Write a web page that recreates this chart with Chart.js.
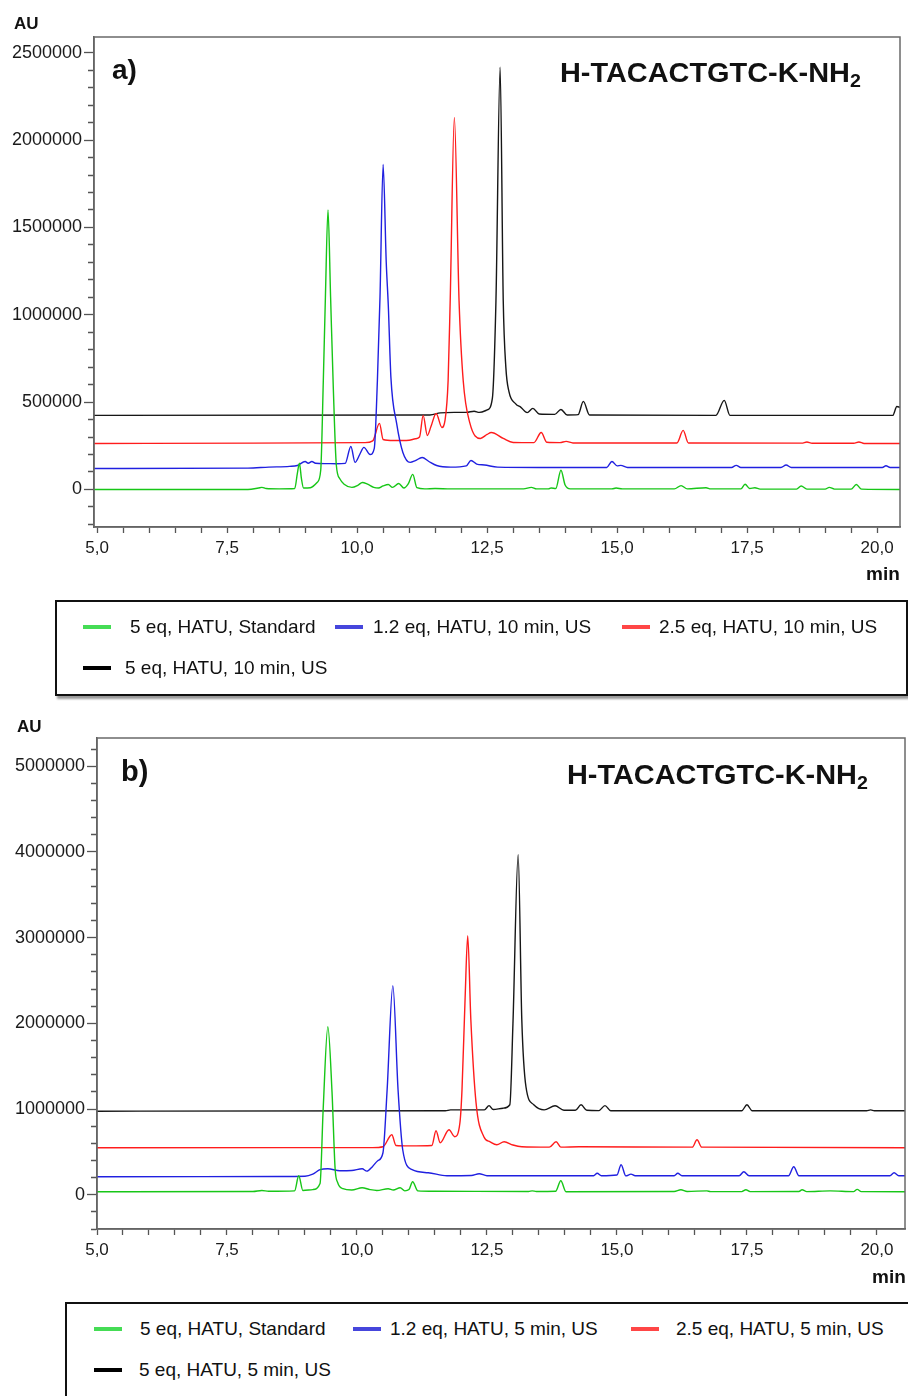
<!DOCTYPE html>
<html>
<head>
<meta charset="utf-8">
<script src="https://cdn.jsdelivr.net/npm/chart.js@4.4.1/dist/chart.umd.min.js"></script>
<style>
  body { margin: 0; width: 908px; height: 1396px; position: relative; overflow: hidden; background: #fff;
         font-family: "Liberation Sans", Arial, sans-serif; color: #111; }
  canvas { position: absolute; left: 0; }
  .lbl { position: absolute; font-weight: bold; line-height: 1; white-space: nowrap; }
  .pep { transform-origin: left top; transform: scaleX(1.07); font-size: 27px; }
  .pep sub { font-size: 0.68em; vertical-align: -0.28em; }
  .legend { position: absolute; border: 2px solid #111; box-shadow: 2px 3px 2px #9a9a9a; background: #fff; }
  .item { position: absolute; height: 20px; line-height: 20px; font-size: 19px; white-space: nowrap; }
  .swatch { position: absolute; height: 4px; }
</style>
</head>
<body>
<canvas id="chartA" width="908" height="590" style="top:0"></canvas>
<canvas id="chartB" width="908" height="590" style="top:700px"></canvas>

<div class="lbl" style="left:14px; top:15px; font-size:17px">AU</div>
<div class="lbl" style="left:112px; top:56px; font-size:28px">a)</div>
<div class="lbl pep" style="left:560px; top:60px">H-TACACTGTC-K-NH<sub>2</sub></div>
<div class="lbl" style="left:866px; top:564px; font-size:19px">min</div>

<div class="lbl" style="left:17px; top:718px; font-size:17px">AU</div>
<div class="lbl" style="left:121px; top:757px; font-size:29px">b)</div>
<div class="lbl pep" style="left:567px; top:762px">H-TACACTGTC-K-NH<sub>2</sub></div>
<div class="lbl" style="left:872px; top:1267px; font-size:19px">min</div>

<div class="legend" id="legendA" style="left:55px; top:600px; width:849px; height:92px"></div>
<div class="legend" id="legendB" style="left:65px; top:1302px; width:860px; height:120px"></div>

<script>
// Series names
const labelsA = ['5 eq, HATU, Standard', '1.2 eq, HATU, 10 min, US', '2.5 eq, HATU, 10 min, US', '5 eq, HATU, 10 min, US'];
const labelsB = ['5 eq, HATU, Standard', '1.2 eq, HATU, 5 min, US', '2.5 eq, HATU, 5 min, US', '5 eq, HATU, 5 min, US'];
const lineColors = ['#17c617', '#2020e0', '#ff1c1c', '#161616'];
const swatchColors = ['#45dc55', '#4646dc', '#ff4646', '#000000'];

// Axis ticks (min)
const xLabelTicks = [5, 7.5, 10, 12.5, 15, 17.5, 20];
const xMinorStep = 0.5;
const yLabelTicksA = [0, 500000, 1000000, 1500000, 2000000, 2500000];
const yMinorStepA = 100000;
const yLabelTicksB = [0, 1000000, 2000000, 3000000, 4000000, 5000000];
const yMinorStepB = 200000;

// Panel a) traces, [time (min), AU]
const greenA = [[4.94, 0], [7.9, 0], [8.1, 8000], [8.17, 12000], [8.25, 5000], [8.5, 3000], [8.8, 5000], [8.85, 90000],
  [8.89, 150000], [8.93, 60000], [8.97, 8000], [9.1, 10000], [9.23, 40000], [9.3, 110000], [9.35, 624000], [9.39, 1100000],
  [9.44, 1600000], [9.49, 1100000], [9.54, 600000], [9.6, 140000], [9.67, 60000], [9.75, 30000], [9.9, 12000], [10.02, 25000],
  [10.1, 40000], [10.2, 30000], [10.32, 12000], [10.41, 8000], [10.5, 20000], [10.6, 28000], [10.68, 12000], [10.8, 34000],
  [10.9, 8000], [10.98, 30000], [11.07, 86000], [11.15, 10000], [11.3, 3000], [11.5, 5000], [11.8, 3000], [13.2, 3000],
  [13.35, 12000], [13.45, 3000], [13.68, 3000], [13.73, 8000], [13.82, 5000], [13.92, 110000], [14.0, 25000], [14.1, 3000],
  [14.9, 3000], [14.98, 8000], [15.1, 3000], [16.1, 3000], [16.23, 22000], [16.35, 3000], [16.71, 10000], [16.8, 3000],
  [17.38, 3000], [17.46, 30000], [17.55, 5000], [17.65, 10000], [17.75, 2000], [18.45, 2000], [18.54, 20000], [18.65, 2000],
  [19.0, 2000], [19.08, 12000], [19.18, 2000], [19.5, 2000], [19.6, 28000], [19.7, 2000], [20.44, 0]];
const blueA = [[4.94, 120000], [7.9, 122000], [8.3, 128000], [8.7, 132000], [8.85, 137000], [9.0, 160000], [9.06, 150000],
  [9.13, 160000], [9.2, 150000], [9.4, 148000], [9.6, 147000], [9.77, 149000], [9.88, 246000], [9.96, 155000], [10.05, 200000],
  [10.13, 241000], [10.25, 200000], [10.33, 235000], [10.39, 624000], [10.44, 1100000], [10.5, 1860000], [10.56, 1300000],
  [10.6, 1050000], [10.65, 640000], [10.76, 378000], [10.88, 212000], [11.02, 155000], [11.12, 165000], [11.25, 183000],
  [11.38, 160000], [11.53, 137000], [11.8, 128000], [12.1, 135000], [12.19, 166000], [12.3, 145000], [12.45, 140000],
  [12.7, 128000], [13.5, 126000], [14.8, 126000], [14.9, 160000], [15.0, 135000], [15.07, 138000], [15.2, 126000],
  [17.2, 126000], [17.29, 138000], [17.38, 126000], [18.15, 126000], [18.25, 140000], [18.35, 126000], [20.1, 126000],
  [20.17, 136000], [20.25, 126000], [20.44, 126000]];
const redA = [[4.94, 263000], [8.0, 265000], [10.15, 268000], [10.3, 278000], [10.43, 378000], [10.5, 286000], [10.7, 280000],
  [11.0, 282000], [11.12, 290000], [11.2, 300000], [11.27, 424000], [11.35, 309000], [11.42, 360000], [11.52, 435000],
  [11.63, 355000], [11.69, 395000], [11.75, 624000], [11.79, 1082000], [11.87, 2130000], [11.96, 1082000], [12.04, 624000],
  [12.17, 378000], [12.37, 292000], [12.5, 315000], [12.58, 326000], [12.81, 292000], [13.0, 269000], [13.4, 268000],
  [13.54, 326000], [13.65, 270000], [13.9, 268000], [14.02, 275000], [14.15, 266000], [16.15, 266000], [16.27, 338000],
  [16.37, 266000], [18.55, 265000], [18.65, 272000], [18.75, 264000], [19.55, 264000], [19.65, 272000], [19.75, 263000],
  [20.44, 263000]];
const blackA = [[4.94, 424000], [11.4, 426000], [11.6, 438000], [11.87, 441000], [12.1, 441000], [12.25, 448000],
  [12.35, 441000], [12.5, 455000], [12.6, 520000], [12.67, 1082000], [12.75, 2417000], [12.81, 1082000], [12.86, 700000],
  [12.92, 560000], [13.05, 490000], [13.15, 470000], [13.27, 440000], [13.38, 464000], [13.5, 432000], [13.8, 430000],
  [13.92, 458000], [14.04, 426000], [14.25, 428000], [14.35, 504000], [14.47, 426000], [16.9, 424000], [17.06, 510000],
  [17.17, 424000], [20.3, 424000], [20.38, 475000], [20.44, 470000]];

// Panel b) traces, [time (min), AU]
const greenB = [[5.0, 35000], [8.0, 38000], [8.17, 50000], [8.3, 40000], [8.8, 45000], [8.88, 222000], [8.96, 50000],
  [9.15, 60000], [9.29, 130000], [9.35, 1000000], [9.44, 1960000], [9.52, 1200000], [9.58, 300000], [9.63, 140000],
  [9.73, 70000], [9.9, 55000], [10.1, 82000], [10.25, 60000], [10.38, 50000], [10.6, 70000], [10.7, 55000], [10.83, 82000],
  [10.92, 45000], [11.0, 60000], [11.07, 152000], [11.17, 45000], [11.5, 40000], [13.3, 38000], [13.37, 45000],
  [13.45, 38000], [13.82, 40000], [13.92, 163000], [14.02, 35000], [16.1, 38000], [16.23, 58000], [16.35, 38000],
  [16.73, 45000], [16.8, 36000], [17.4, 36000], [17.48, 58000], [17.56, 36000], [18.5, 38000], [18.56, 58000],
  [18.65, 36000], [19.1, 45000], [19.55, 36000], [19.62, 62000], [19.7, 36000], [20.54, 35000]];
const blueB = [[5.0, 210000], [8.5, 212000], [9.0, 215000], [9.15, 240000], [9.29, 292000], [9.44, 303000], [9.67, 280000],
  [9.9, 282000], [10.1, 303000], [10.19, 275000], [10.3, 330000], [10.4, 397000], [10.5, 490000], [10.58, 1225000],
  [10.69, 2440000], [10.79, 1225000], [10.88, 525000], [11.06, 292000], [11.37, 257000], [11.73, 222000], [12.2, 225000],
  [12.35, 245000], [12.5, 222000], [14.55, 222000], [14.62, 250000], [14.7, 222000], [15.0, 230000], [15.08, 350000],
  [15.17, 220000], [15.27, 240000], [15.35, 222000], [16.1, 222000], [16.17, 250000], [16.25, 222000], [17.35, 222000],
  [17.44, 268000], [17.54, 222000], [18.3, 222000], [18.4, 327000], [18.5, 222000], [20.25, 222000], [20.33, 257000],
  [20.42, 222000], [20.54, 222000]];
const redB = [[5.0, 548000], [10.3, 550000], [10.5, 560000], [10.67, 700000], [10.75, 575000], [11.0, 570000],
  [11.44, 575000], [11.52, 747000], [11.6, 607000], [11.77, 758000], [11.88, 677000], [11.98, 840000], [12.02, 1225000],
  [12.08, 2300000], [12.13, 3022000], [12.19, 2042000], [12.29, 1073000], [12.44, 677000], [12.56, 618000], [12.69, 583000],
  [12.83, 618000], [13.0, 580000], [13.17, 560000], [13.7, 555000], [13.83, 618000], [13.92, 555000], [14.27, 560000],
  [16.45, 555000], [16.54, 642000], [16.63, 555000], [20.54, 548000]];
const blackB = [[5.0, 975000], [11.7, 980000], [11.8, 990000], [12.45, 990000], [12.54, 1040000], [12.62, 995000],
  [12.81, 1010000], [12.94, 1050000], [13.0, 2000000], [13.1, 3967000], [13.17, 2042000], [13.25, 1260000], [13.4, 1050000],
  [13.6, 990000], [13.81, 1038000], [13.98, 985000], [14.2, 985000], [14.31, 1050000], [14.42, 985000], [14.65, 982000],
  [14.77, 1040000], [14.88, 980000], [17.4, 980000], [17.5, 1050000], [17.6, 980000], [19.8, 980000], [19.88, 990000],
  [19.95, 980000], [20.54, 980000]];

const FONT = '"Liberation Sans", Arial, sans-serif';

function tickList(lo, hi, step) {
    const out = [];
    const n = Math.round((hi - lo) / step);
    for (let i = 0; i <= n; i++) out.push({ value: Math.round((lo + i * step) / step) * step });
    return out;
}

function isLabelled(value, list) {
    return list.some(v => Math.abs(v - value) < 1e-6);
}

// Frame around the plot area
const frame = {
    id: 'frame',
    afterDraw(chart) {
        const { ctx, chartArea: a } = chart;
        ctx.save();
        ctx.strokeStyle = '#6a6a6a';
        ctx.lineWidth = 1.5;
        ctx.strokeRect(a.left, a.top, a.right - a.left, a.bottom - a.top);
        ctx.restore();
    }
};

function makePanel(id, traces, labels, p) {
    const ctx = document.getElementById(id).getContext('2d');
    return new Chart(ctx, {
        type: 'line',
        data: {
            datasets: traces.map((t, i) => ({
                label: labels[i],
                data: t.map(pt => ({ x: pt[0], y: pt[1] })),
                borderColor: lineColors[i],
                borderWidth: 1.4,
                pointRadius: 0,
                cubicInterpolationMode: 'monotone',
                fill: false
            }))
        },
        options: {
            responsive: false,
            animation: false,
            layout: { padding: { top: p.padTop, right: p.padRight, left: 0, bottom: 0 } },
            plugins: { legend: { display: false }, tooltip: { enabled: false } },
            scales: {
                x: {
                    type: 'linear',
                    min: p.xMin,
                    max: p.xMax,
                    border: { display: true, color: '#555', width: 1.5 },
                    grid: { drawOnChartArea: false, drawTicks: true, tickLength: 6, tickColor: '#555', tickWidth: 1.3 },
                    ticks: {
                        autoSkip: false, maxRotation: 0, padding: 5, color: '#1a1a1a',
                        font: { family: FONT, size: 17 },
                        callback: v => isLabelled(v, xLabelTicks) ? v.toFixed(1).replace('.', ',') : ''
                    },
                    afterBuildTicks: axis => { axis.ticks = tickList(5, 20, xMinorStep); },
                    afterFit: axis => { axis.height = p.xAxisHeight; }
                },
                y: {
                    type: 'linear',
                    min: p.yMin,
                    max: p.yMax,
                    border: { display: true, color: '#555', width: 1.5 },
                    grid: {
                        drawOnChartArea: false, drawTicks: true, tickLength: 10, tickColor: '#555', tickWidth: 1.3,
                        tickBorderDash: c => (c.tick && isLabelled(c.tick.value, p.yLabels)) ? [] : [0, 4, 6, 100]
                    },
                    ticks: {
                        autoSkip: false, padding: 2, color: '#1a1a1a',
                        font: { family: FONT, size: 18 },
                        callback: v => isLabelled(v, p.yLabels) ? String(v) : ''
                    },
                    afterBuildTicks: axis => { axis.ticks = tickList(p.yTickLo, p.yTickHi, p.yStep); },
                    afterFit: axis => { axis.width = p.yAxisWidth; }
                }
            }
        },
        plugins: [frame]
    });
}

makePanel('chartA', [greenA, blueA, redA, blackA], labelsA, {
    padTop: 37, padRight: 8, xAxisHeight: 63, yAxisWidth: 94,
    xMin: 4.94, xMax: 20.44, yMin: -215000, yMax: 2590000,
    yTickLo: -200000, yTickHi: 2500000, yStep: yMinorStepA, yLabels: yLabelTicksA
});

makePanel('chartB', [greenB, blueB, redB, blackB], labelsB, {
    padTop: 38, padRight: 3, xAxisHeight: 61, yAxisWidth: 97,
    xMin: 5.0, xMax: 20.54, yMin: -400000, yMax: 5330000,
    yTickLo: -400000, yTickHi: 5200000, yStep: yMinorStepB, yLabels: yLabelTicksB
});

// Boxed legends below each panel (positions relative to the box)
const legendSlotsA = [
    { sx: 26, tx: 73, y: 25 }, { sx: 278, tx: 316, y: 25 }, { sx: 565, tx: 602, y: 25 }, { sx: 26, tx: 68, y: 66 }
];
const legendSlotsB = [
    { sx: 27, tx: 73, y: 25 }, { sx: 286, tx: 323, y: 25 }, { sx: 564, tx: 609, y: 25 }, { sx: 27, tx: 72, y: 66 }
];

function buildLegend(id, labels, slots) {
    const box = document.getElementById(id);
    labels.forEach((text, i) => {
        const s = slots[i];
        const sw = document.createElement('div');
        sw.className = 'swatch';
        sw.style.cssText = `left:${s.sx}px; top:${s.y - 2}px; width:28px; background:${swatchColors[i]}`;
        box.appendChild(sw);
        const t = document.createElement('div');
        t.className = 'item';
        t.style.cssText = `left:${s.tx}px; top:${s.y - 10}px`;
        t.textContent = text;
        box.appendChild(t);
    });
}

buildLegend('legendA', labelsA, legendSlotsA);
buildLegend('legendB', labelsB, legendSlotsB);
</script>
</body>
</html>
